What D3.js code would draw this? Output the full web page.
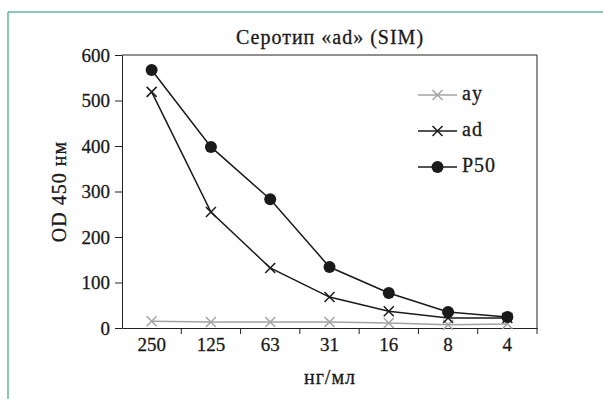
<!DOCTYPE html>
<html>
<head>
<meta charset="utf-8">
<script src="https://cdn.jsdelivr.net/npm/d3@7"></script>
<style>
  body { margin: 0; background: #fff; }
</style>
</head>
<body>
<svg width="603" height="399"></svg>
<script>
var categories = ["250", "125", "63", "31", "16", "8", "4"];
var ayValues = [15, 13, 13, 13, 11, 7, 9];
var adValues = [519, 255, 132, 68, 37, 22, 22];
var p50Values = [567, 398, 283, 134, 77, 35, 24];
var yTicks = [0, 100, 200, 300, 400, 500, 600];

var series = [
    { name: "ay", values: ayValues, color: "#a3a3a3", marker: "x" },
    { name: "ad", values: adValues, color: "#1a1a1a", marker: "x" },
    { name: "P50", values: p50Values, color: "#1a1a1a", marker: "dot" }
];

var svg = d3.select("svg");
var margin = { left: 122, right: 66, top: 55, bottom: 71 };
var width = +svg.attr("width");
var height = +svg.attr("height");
var serif = "Liberation Serif, serif";
var fs = 19;

// frame lines
svg.append("line").attr("x1", 8).attr("x2", width).attr("y1", 12).attr("y2", 12)
    .attr("stroke", "#5fb89e").attr("stroke-width", 1.5);
svg.append("line").attr("x1", 8).attr("x2", 8).attr("y1", 12).attr("y2", height)
    .attr("stroke", "#5fb89e").attr("stroke-width", 1.5);

var x = d3.scaleBand().domain(categories)
    .range([margin.left, width - margin.right]);
var y = d3.scaleLinear().domain([0, 600])
    .range([height - margin.bottom, margin.top]);

var plotRight = width - margin.right;

// top / right border
svg.append("path")
    .attr("d", "M" + margin.left + "," + y(600) + "H" + plotRight + "V" + y(0))
    .attr("fill", "none").attr("stroke", "#222").attr("stroke-width", 1);

var yAxis = svg.append("g")
    .attr("transform", "translate(" + margin.left + ",0)")
    .call(d3.axisLeft(y).tickValues(yTicks).tickSize(7).tickPadding(5).tickSizeOuter(0));

var xAxis = svg.append("g")
    .attr("transform", "translate(0," + y(0) + ")")
    .call(d3.axisBottom(x).tickSize(0).tickPadding(10));

// ticks between categories
xAxis.selectAll(".sep")
    .data(categories.slice(1).concat(["end"]))
    .enter().append("line")
    .attr("class", "sep")
    .attr("x1", function (d, i) { return x(categories[i]) + x.bandwidth(); })
    .attr("x2", function (d, i) { return x(categories[i]) + x.bandwidth(); })
    .attr("y1", 0).attr("y2", 6)
    .attr("stroke", "#222");

svg.selectAll("g").attr("font-family", serif);
svg.selectAll(".domain").attr("stroke", "#222");
svg.selectAll(".tick line").attr("stroke", "#222");
svg.selectAll(".tick text").attr("font-size", fs).attr("fill", "#1a1a1a")
    .attr("stroke", "#1a1a1a").attr("stroke-width", 0.3);

function label(sel) {
    return sel.attr("font-family", serif).attr("font-size", 20)
        .attr("letter-spacing", 1).attr("fill", "#1a1a1a")
        .attr("stroke", "#1a1a1a").attr("stroke-width", 0.3);
}

// title and labels
label(svg.append("text")).attr("x", 330).attr("y", 44).attr("text-anchor", "middle")
    .text("Серотип «ad» (SIM)");
label(svg.append("text")).attr("x", 330).attr("y", 384).attr("text-anchor", "middle")
    .text("нг/мл");
label(svg.append("text"))
    .attr("transform", "translate(66," + (y(300)) + ") rotate(-90)")
    .attr("text-anchor", "middle")
    .text("OD 450 нм");

var cx = function (i) { return x(categories[i]) + x.bandwidth() / 2; };

var line = d3.line()
    .x(function (d, i) { return cx(i); })
    .y(function (d) { return y(d); });

function drawMarker(g, type, color, px, py) {
    if (type === "dot") {
        g.append("circle").attr("cx", px).attr("cy", py).attr("r", 6).attr("fill", color);
    } else {
        var s = 5;
        g.append("path")
            .attr("d", "M" + (px - s) + "," + (py - s) + "L" + (px + s) + "," + (py + s) +
                "M" + (px - s) + "," + (py + s) + "L" + (px + s) + "," + (py - s))
            .attr("stroke", color).attr("stroke-width", 1.5);
    }
}

series.forEach(function (s) {
    var g = svg.append("g");
    g.append("path").datum(s.values)
        .attr("d", line).attr("fill", "none")
        .attr("stroke", s.color).attr("stroke-width", 1.5);
    s.values.forEach(function (v, i) {
        drawMarker(g, s.marker, s.color, cx(i), y(v));
    });
});

// legend
var legend = svg.append("g");
series.forEach(function (s, i) {
    var ly = 95 + i * 36;
    legend.append("line").attr("x1", 418).attr("x2", 457).attr("y1", ly).attr("y2", ly)
        .attr("stroke", s.color).attr("stroke-width", 1.5);
    drawMarker(legend, s.marker, s.color, 437.5, ly);
    label(legend.append("text")).attr("x", 462).attr("y", ly + 5).text(s.name);
});
</script>
</body>
</html>
